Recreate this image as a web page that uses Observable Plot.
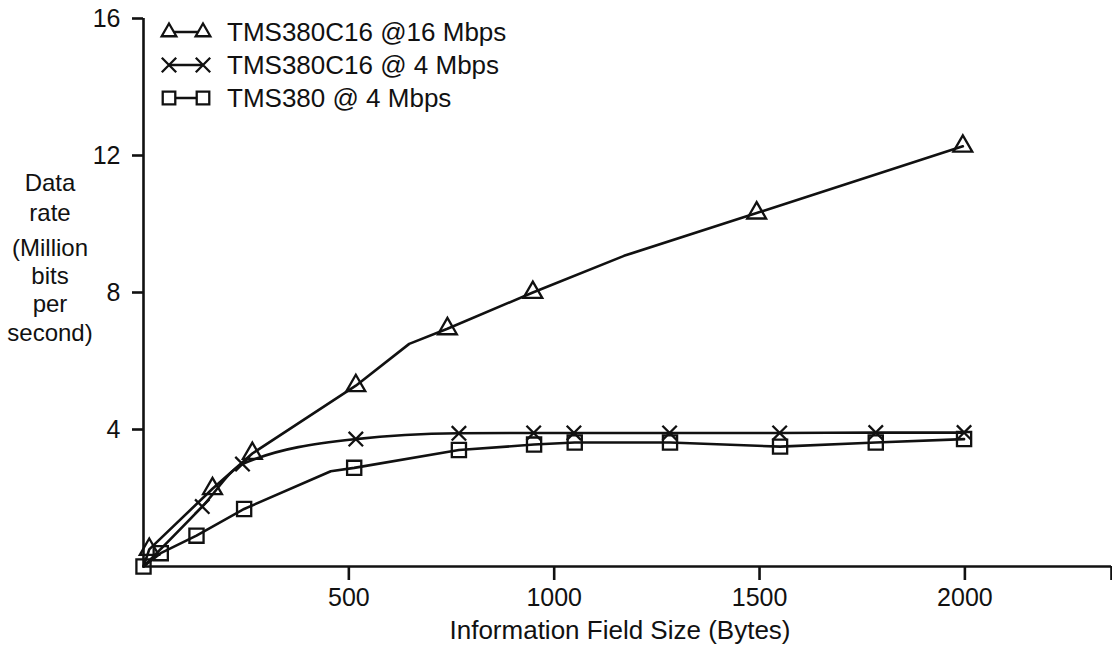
<!DOCTYPE html>
<html>
<head>
<meta charset="utf-8">
<script src="https://cdn.jsdelivr.net/npm/d3@7"></script>
<script src="https://cdn.jsdelivr.net/npm/@observablehq/plot@0.6"></script>
<style>
  html, body { margin: 0; padding: 0; background: #fff; }
  #chart { width: 1112px; height: 646px; }
  svg text { font-family: "Liberation Sans", Arial, Helvetica, sans-serif; }
</style>
</head>
<body>
<div id="chart"></div>
<script>
// ---- data ----
const seriesNames = ["TMS380C16 @16 Mbps", "TMS380C16 @ 4 Mbps", "TMS380 @ 4 Mbps"];
const seriesSymbols = ["triangle", "times", "square"];

// TMS380C16 @16 Mbps (1 = marker drawn, 0 = plain bend of the line)
const tri_x      = [0, 14, 168, 265, 517, 647, 740, 948, 1170, 1493, 1995];
const tri_y      = [0, 0.5, 2.27, 3.3, 5.28, 6.5, 6.94, 8.0, 9.07, 10.32, 12.27];
const tri_marker = [0, 1, 1, 1, 1, 0, 1, 1, 0, 1, 1];

// TMS380C16 @ 4 Mbps
const x4_x      = [0, 143, 241, 517, 768, 950, 1048, 1281, 1549, 1783, 1998];
const x4_y      = [0, 1.75, 2.99, 3.72, 3.89, 3.9, 3.9, 3.9, 3.9, 3.91, 3.91];
const x4_marker = [0, 1, 1, 1, 1, 1, 1, 1, 1, 1, 1];

// TMS380 @ 4 Mbps
const sq_x      = [0, 42, 129, 245, 456, 513, 768, 951, 1050, 1282, 1550, 1783, 1998];
const sq_y      = [0, 0.39, 0.9, 1.68, 2.78, 2.88, 3.40, 3.56, 3.62, 3.62, 3.5, 3.62, 3.72];
const sq_marker = [1, 1, 1, 1, 0, 1, 1, 1, 1, 1, 1, 1, 1];

const xTicks = [500, 1000, 1500, 2000];
const xMax = 2357;
const yTicks = [4, 8, 12, 16];
const yMax = 16;
const xTitle = "Information Field Size (Bytes)";
const yTitleLines = ["Data", "rate", "(Million", "bits", "per", "second)"];

// ---- build table ----
function build(name, xs, ys, ms) {
  return xs.map((x, i) => ({series: name, x, y: ys[i], marker: ms[i] === 1}));
}
const rows = [
  ...build(seriesNames[0], tri_x, tri_y, tri_marker),
  ...build(seriesNames[1], x4_x, x4_y, x4_marker),
  ...build(seriesNames[2], sq_x, sq_y, sq_marker)
];
const symbolSize = {triangle: 7, times: 6.6, square: 8};
const curveFor = {[seriesNames[0]]: "linear", [seriesNames[1]]: "monotone-x", [seriesNames[2]]: "linear"};

const font = "'Liberation Sans', Arial, Helvetica, sans-serif";
const ink = "#111";

const marks = [
  Plot.ruleY([0], {stroke: ink, strokeWidth: 2.6}),
  Plot.ruleX([0], {stroke: ink, strokeWidth: 2.6}),
  Plot.axisX({ticks: xTicks, tickSize: 14, tickPadding: 8, tickFormat: "d", label: null, fontSize: 25, stroke: ink, strokeWidth: 2.6, fill: ink}),
  Plot.axisX({ticks: [xMax], tickSize: 14, tickFormat: () => "", label: null, stroke: ink, strokeWidth: 2.6}),
  Plot.axisY({ticks: yTicks, tickSize: 11, tickPadding: 12, tickFormat: "d", label: null, fontSize: 25, stroke: ink, strokeWidth: 2.6, fill: ink})
];
seriesNames.forEach((name, i) => {
  const d = rows.filter(r => r.series === name);
  marks.push(Plot.line(d, {x: "x", y: "y", stroke: ink, strokeWidth: 2.6, curve: curveFor[name]}));
  marks.push(Plot.dot(d.filter(r => r.marker), {x: "x", y: "y", symbol: () => seriesSymbols[i], r: symbolSize[seriesSymbols[i]], stroke: ink, strokeWidth: 2.3, fill: "none"}));
});

const chart = Plot.plot({
  width: 1112,
  height: 646,
  marginLeft: 143,
  marginRight: 1,
  marginTop: 18,
  marginBottom: 80,
  style: {fontFamily: font, background: "#fff", color: ink, overflow: "visible"},
  x: {domain: [0, xMax], axis: null},
  y: {domain: [0, yMax], axis: null},
  marks
});
document.getElementById("chart").appendChild(chart);

// ---- titles and legend added as SVG text ----
const svg = d3.select(chart);
svg.append("text")
  .attr("x", 620).attr("y", 639)
  .attr("text-anchor", "middle")
  .attr("font-size", 26).attr("fill", ink)
  .text(xTitle);

const yBaselines = [191, 221, 256, 284, 312, 341];
const yt = svg.append("text").attr("text-anchor", "middle").attr("font-size", 24).attr("fill", ink);
yTitleLines.forEach((t, i) => {
  yt.append("tspan").attr("x", 50).attr("y", yBaselines[i]).text(t);
});

const legendRowsY = [32, 65, 98];
const d3Sym = {triangle: d3.symbolTriangle2, times: d3.symbolTimes, square: d3.symbolSquare2};
const lg = svg.append("g");
seriesNames.forEach((name, i) => {
  const cy = legendRowsY[i];
  const sym = seriesSymbols[i];
  const r = symbolSize[sym];
  const path = d3.symbol(d3Sym[sym], Math.PI * r * r)();
  lg.append("line").attr("x1", 169).attr("x2", 203).attr("y1", cy).attr("y2", cy)
    .attr("stroke", ink).attr("stroke-width", 2.6);
  [169, 203].forEach(x => {
    lg.append("path").attr("d", path).attr("transform", `translate(${x},${cy})`)
      .attr("fill", "#fff").attr("stroke", ink).attr("stroke-width", 2.3);
  });
  lg.append("text").attr("x", 227).attr("y", cy).attr("dy", "0.35em")
    .attr("text-anchor", "start")
    .attr("font-size", 26).attr("fill", ink).text(name);
});
</script>
</body>
</html>
